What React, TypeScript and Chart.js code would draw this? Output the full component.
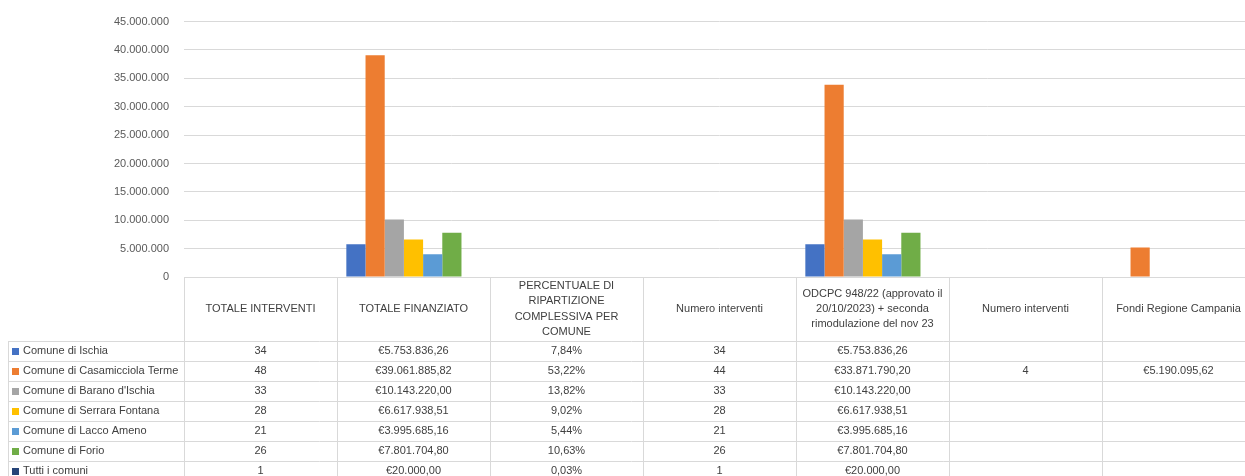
import React, { useEffect, useRef } from "react";
import { Chart, registerables } from "chart.js";

Chart.register(...registerables);

const categoryLines: string[][] = [
  ["TOTALE INTERVENTI"],
  ["TOTALE FINANZIATO"],
  ["PERCENTUALE DI", "RIPARTIZIONE", "COMPLESSIVA PER", "COMUNE"],
  ["Numero interventi"],
  ["ODCPC 948/22 (approvato il", "20/10/2023) + seconda", "rimodulazione del nov 23"],
  ["Numero interventi"],
  ["Fondi Regione Campania"],
];
const columnKinds = ["int", "eur", "pct", "int", "eur", "int", "eur"];

const seriesNames = [
  "Comune di Ischia",
  "Comune di Casamicciola Terme",
  "Comune di Barano d'Ischia",
  "Comune di Serrara Fontana",
  "Comune di Lacco Ameno",
  "Comune di Forio",
  "Tutti i comuni",
];
const seriesColors = ["#4472C4", "#ED7D31", "#A5A5A5", "#FFC000", "#5B9BD5", "#70AD47", "#264478"];

const ischia = [34, 5753836.26, 0.0784, 34, 5753836.26, null, null];
const casamicciola = [48, 39061885.82, 0.5322, 44, 33871790.2, 4, 5190095.62];
const barano = [33, 10143220.0, 0.1382, 33, 10143220.0, null, null];
const serrara = [28, 6617938.51, 0.0902, 28, 6617938.51, null, null];
const lacco = [21, 3995685.16, 0.0544, 21, 3995685.16, null, null];
const forio = [26, 7801704.8, 0.1063, 26, 7801704.8, null, null];
const tutti = [1, 20000.0, 0.0003, 1, 20000.0, null, null];

const seriesValues = [ischia, casamicciola, barano, serrara, lacco, forio, tutti];

const yMax = 45000000;
const yStep = 5000000;

function groupThousands(s: string): string {
  return s.replace(/\B(?=(\d{3})+(?!\d))/g, ".");
}
function fmt(v: number | null, kind: string): string {
  if (v === null || v === undefined) return "";
  if (kind === "int") return groupThousands(String(Math.round(v)));
  if (kind === "pct") return (v * 100).toFixed(2).replace(".", ",") + "%";
  const [i, d] = v.toFixed(2).split(".");
  return "€" + groupThousands(i) + "," + d;
}

const FONT = "'Liberation Sans', Arial, sans-serif";

const tablePlugin = {
  id: "dataTable",
  afterDraw(chart: any) {
    const ctx = chart.ctx as CanvasRenderingContext2D;
    const x = chart.scales.x;
    const area = chart.chartArea;
    const n = categoryLines.length;
    const colW = (area.right - area.left) / n;
    const top = area.bottom;
    const headerBottom = top + 64;
    const rowH = 20;
    const leftEdge = 8;
    const bottom = chart.height;
    ctx.save();
    ctx.strokeStyle = "#d9d9d9";
    ctx.lineWidth = 1;
    ctx.beginPath();
    ctx.moveTo(area.left, Math.round(top) + 0.5);
    ctx.lineTo(area.right, Math.round(top) + 0.5);
    for (let r = 0; r <= seriesNames.length; r++) {
      const y = Math.round(headerBottom + r * rowH) + 0.5;
      ctx.moveTo(leftEdge, y);
      ctx.lineTo(area.right, y);
    }
    for (let c = 0; c <= n; c++) {
      const xx = Math.round(area.left + c * colW) + 0.5;
      ctx.moveTo(xx, top);
      ctx.lineTo(xx, bottom);
    }
    ctx.moveTo(leftEdge + 0.5, headerBottom);
    ctx.lineTo(leftEdge + 0.5, bottom);
    ctx.stroke();

    ctx.fillStyle = "#404040";
    ctx.font = "11px " + FONT;
    ctx.textAlign = "center";
    ctx.textBaseline = "middle";
    const hc = (top + headerBottom) / 2;
    const lh = 15.3;
    for (let c = 0; c < n; c++) {
      const cx = x.getPixelForValue(c);
      const lines = categoryLines[c];
      lines.forEach((ln, i) => {
        ctx.fillText(ln, cx, hc + (i - (lines.length - 1) / 2) * lh);
      });
    }
    for (let r = 0; r < seriesNames.length; r++) {
      const cy = headerBottom + r * rowH + rowH / 2;
      ctx.fillStyle = seriesColors[r];
      ctx.fillRect(12, Math.round(cy - 3.5), 7, 7);
      ctx.fillStyle = "#404040";
      ctx.textAlign = "left";
      ctx.fillText(seriesNames[r], 23, cy);
      ctx.textAlign = "center";
      for (let c = 0; c < n; c++) {
        const t = fmt(seriesValues[r][c] as number | null, columnKinds[c]);
        if (t) ctx.fillText(t, x.getPixelForValue(c), cy);
      }
    }
    ctx.restore();
  },
};

export default function App() {
  const ref = useRef<HTMLCanvasElement | null>(null);
  useEffect(() => {
    if (!ref.current) return;
    const chart = new Chart(ref.current, {
      type: "bar",
      data: {
        labels: categoryLines.map((l) => l.join(" ")),
        datasets: seriesNames.map((name, i) => ({
          label: name,
          data: seriesValues[i],
          backgroundColor: (c: any) => {
            const v = c.raw;
            return typeof v === "number" && Math.abs(v) < yMax / 2000 ? "rgba(0,0,0,0)" : seriesColors[i];
          },
          borderWidth: 0,
          categoryPercentage: 0.878,
          barPercentage: 1,
        })),
      },
      options: {
        responsive: false,
        animation: false,
        layout: { padding: { top: 20, bottom: 199, left: 0, right: 7 } },
        plugins: { legend: { display: false }, tooltip: { enabled: false }, title: { display: false } },
        scales: {
          x: { display: false, offset: true, grid: { display: false } },
          y: {
            min: 0,
            max: yMax,
            border: { display: false },
            grid: { color: "#d9d9d9", drawTicks: false, lineWidth: 1 },
            afterFit: (axis: any) => {
              axis.width = 184;
            },
            ticks: {
              stepSize: yStep,
              padding: 15,
              color: "#595959",
              font: { family: FONT, size: 11 },
              callback: (v: any) => groupThousands(String(Math.round(Number(v)))),
            },
          },
        },
      },
      plugins: [tablePlugin],
    });
    return () => chart.destroy();
  }, []);
  return (
    <div style={{ position: "absolute", left: 0, top: 0, width: 1245, height: 476, overflow: "hidden", background: "#fff" }}>
      <canvas ref={ref} width={1262} height={476} style={{ display: "block" }} />
    </div>
  );
}
